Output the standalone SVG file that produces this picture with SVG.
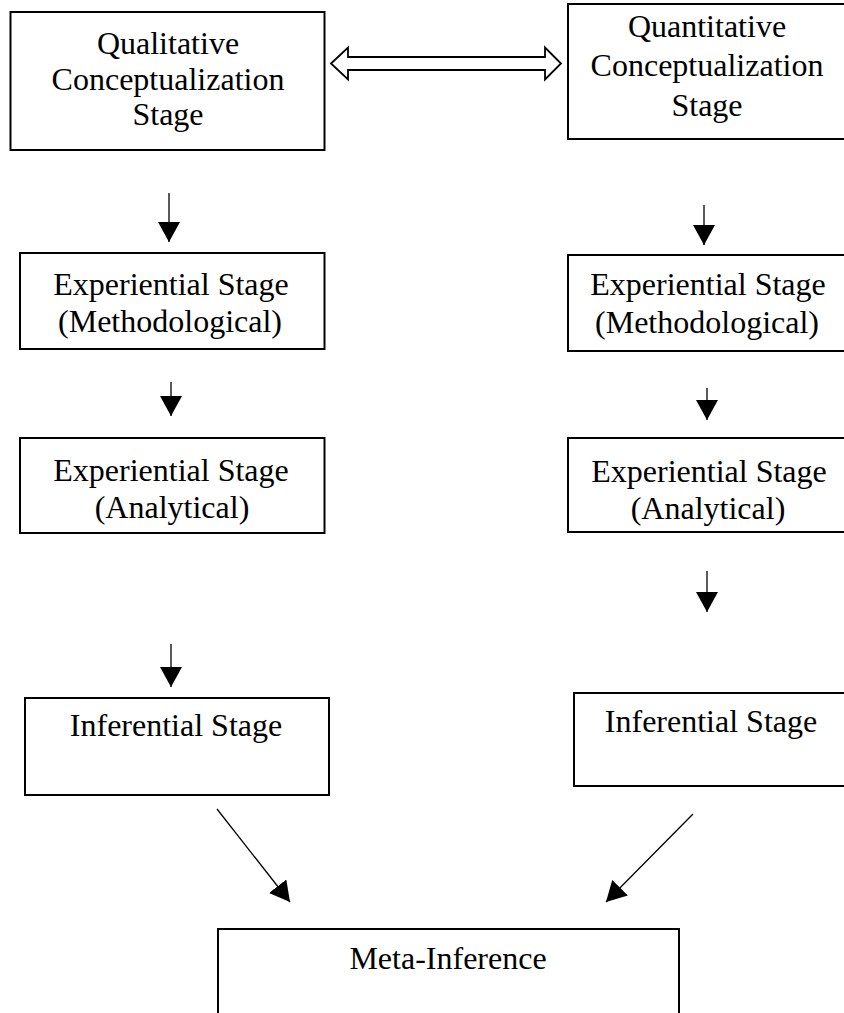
<svg xmlns="http://www.w3.org/2000/svg" width="844" height="1013" viewBox="0 0 844 1013">
<style>
.box{fill:#fff;stroke:#000;stroke-width:2}
.t{font-family:"Liberation Serif","Times New Roman",serif;font-size:32px;fill:#000;text-anchor:middle}
.ln{stroke:#000;stroke-width:1.3;fill:none}
</style>
<defs>
<marker id="ah" viewBox="0 0 20 22" refX="20" refY="11" markerWidth="20" markerHeight="22" markerUnits="userSpaceOnUse" orient="auto">
<path d="M0,0 L20,11 L0,22 Z" fill="#000"/>
</marker>
</defs>
<rect width="844" height="1013" fill="#fff"/>
<g id="qual-concept">
<rect class="box" x="10.5" y="12" width="314" height="138"/>
<text class="t" x="168" y="54">Qualitative</text>
<text class="t" x="168" y="89.5">Conceptualization</text>
<text class="t" x="168" y="125">Stage</text>
</g>
<g id="quant-concept">
<rect class="box" x="568" y="4" width="290" height="135"/>
<text class="t" x="707" y="37">Quantitative</text>
<text class="t" x="707" y="76">Conceptualization</text>
<text class="t" x="707" y="116">Stage</text>
</g>
<g id="qual-meth">
<rect class="box" x="20" y="253" width="304.5" height="96"/>
<text class="t" x="171" y="295">Experiential Stage</text>
<text class="t" x="170" y="332">(Methodological)</text>
</g>
<g id="quant-meth">
<rect class="box" x="568" y="255" width="290" height="96"/>
<text class="t" x="708" y="295">Experiential Stage</text>
<text class="t" x="707" y="333">(Methodological)</text>
</g>
<g id="qual-anal">
<rect class="box" x="20" y="438" width="304.5" height="95"/>
<text class="t" x="171" y="481">Experiential Stage</text>
<text class="t" x="172" y="518">(Analytical)</text>
</g>
<g id="quant-anal">
<rect class="box" x="568" y="438" width="290" height="94"/>
<text class="t" x="709" y="482">Experiential Stage</text>
<text class="t" x="708" y="519">(Analytical)</text>
</g>
<g id="qual-inf">
<rect class="box" x="25" y="698" width="304" height="97"/>
<text class="t" x="176" y="736">Inferential Stage</text>
</g>
<g id="quant-inf">
<rect class="box" x="574" y="693" width="284" height="93"/>
<text class="t" x="711" y="732">Inferential Stage</text>
</g>
<g id="meta">
<rect class="box" x="218" y="929" width="461" height="100"/>
<text class="t" x="448" y="969">Meta-Inference</text>
</g>
<g id="connectors">
<polygon points="331,63.5 348,47.5 348,57 545,57 545,47.5 561,63.5 545,79.5 545,70 348,70 348,79.5" fill="#fff" stroke="#000" stroke-width="1.8" stroke-linejoin="miter"/>
<line class="ln" x1="169" y1="193" x2="169" y2="242" marker-end="url(#ah)"/>
<line class="ln" x1="704" y1="205" x2="704" y2="245" marker-end="url(#ah)"/>
<line class="ln" x1="171" y1="382" x2="171" y2="416" marker-end="url(#ah)"/>
<line class="ln" x1="707" y1="388" x2="707" y2="420" marker-end="url(#ah)"/>
<line class="ln" x1="707" y1="571" x2="707" y2="612" marker-end="url(#ah)"/>
<line class="ln" x1="171" y1="644" x2="171" y2="687" marker-end="url(#ah)"/>
<line class="ln" x1="217" y1="809" x2="290" y2="902" marker-end="url(#ah)"/>
<line class="ln" x1="693" y1="814" x2="606" y2="902" marker-end="url(#ah)"/>
</g>
</svg>
